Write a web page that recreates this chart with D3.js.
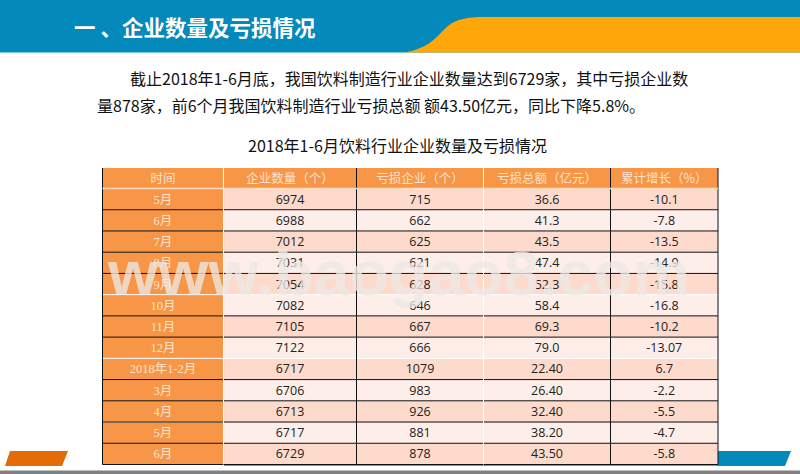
<!DOCTYPE html>
<html>
<head>
<meta charset="utf-8">
<script src="https://cdn.jsdelivr.net/npm/d3@7"></script>
<style>
    html, body { margin: 0; padding: 0; background: #fff; overflow: hidden; }
    svg { display: block; }
    text { font-family: "Noto Sans CJK SC", sans-serif; }
</style>
</head>
<body>
<div id="chart"></div>
<script>
// data
let headers = ["时间", "企业数量（个）", "亏损企业（个）", "亏损总额（亿元）", "累计增长（%）"];
let months = ["5月", "6月", "7月", "8月", "9月", "10月", "11月", "12月", "2018年1-2月", "3月", "4月", "5月", "6月"];
let companies = ["6974", "6988", "7012", "7031", "7054", "7082", "7105", "7122", "6717", "6706", "6713", "6717", "6729"];
let lossMakers = ["715", "662", "625", "621", "628", "646", "667", "666", "1079", "983", "926", "881", "878"];
let lossTotal = ["36.6", "41.3", "43.5", "47.4", "52.3", "58.4", "69.3", "79.0", "22.40", "26.40", "32.40", "38.20", "43.50"];
let growth = ["-10.1", "-7.8", "-13.5", "-14.9", "-15.8", "-16.8", "-10.2", "-13.07", "6.7", "-2.2", "-5.5", "-4.7", "-5.8"];

let pageTitle = "一 、企业数量及亏损情况";
let paragraph = [
    "截止2018年1-6月底，我国饮料制造行业企业数量达到6729家，其中亏损企业数",
    "量878家，前6个月我国饮料制造行业亏损总额 额43.50亿元，同比下降5.8%。"
];
let tableTitle = "2018年1-6月饮料行业企业数量及亏损情况";
let watermark = "www.baogao8.com";

let width = 800;
let height = 474;

let svg = d3.select("#chart").append("svg")
    .attr("width", width)
    .attr("height", height);

// banner
svg.append("rect")
    .attr("width", width)
    .attr("height", 52.5)
    .attr("fill", "#0489bb");

svg.append("path")
    .attr("d", "M404,52.5 C432,48 438,34 448,26 C456,19 468,17 484,17 L800,17 L800,52.5 Z")
    .attr("fill", "#ffa60a");

svg.append("text")
    .attr("x", 74)
    .attr("y", 36)
    .attr("font-size", 21.5)
    .attr("font-weight", 700)
    .attr("fill", "#fff")
    .text(pageTitle);

// intro text
svg.selectAll(".intro")
    .data(paragraph)
    .enter()
    .append("text")
    .attr("class", "intro")
    .attr("x", (d, i) => i === 0 ? 130 : 97)
    .attr("y", (d, i) => i === 0 ? 85 : 112)
    .attr("font-size", 16)
    .attr("fill", "#111")
    .text(d => d);

svg.append("text")
    .attr("x", 397.5)
    .attr("y", 151.5)
    .attr("text-anchor", "middle")
    .attr("font-size", 16)
    .attr("fill", "#111")
    .text(tableTitle);

// bottom decorations, drawn before the table so it covers them
svg.append("polygon")
    .attr("points", "10,451 68,451 62,466 5,466")
    .attr("fill", "#e36c09");
svg.append("polygon")
    .attr("points", "700,451 791,451 785,466 700,466")
    .attr("fill", "#0489bb");
svg.append("rect")
    .attr("y", 470.5)
    .attr("width", width)
    .attr("height", 3.5)
    .attr("fill", "#808080");

// table scales
let columnEdges = [102.5, 223.5, 356.5, 483.5, 610.5, 718];
let colLeft = i => columnEdges[i];
let colWidth = i => columnEdges[i + 1] - columnEdges[i];
let y = d3.scaleBand().domain(d3.range(months.length)).range([188.5, 464.5]);

let columns = [months, companies, lossMakers, lossTotal, growth];

// teal edge showing below the table
svg.append("line")
    .attr("x1", 224)
    .attr("x2", 718)
    .attr("y1", 465.5)
    .attr("y2", 465.5)
    .attr("stroke", "#4fa6c4")
    .attr("stroke-width", 1);

let table = svg.append("g");

// header
let head = table.selectAll(".head")
    .data(headers)
    .enter()
    .append("g")
    .attr("class", "head");

head.append("rect")
    .attr("x", (d, i) => colLeft(i))
    .attr("y", 168)
    .attr("width", (d, i) => colWidth(i))
    .attr("height", 20.5)
    .attr("fill", "#f79646");

head.append("text")
    .attr("x", (d, i) => colLeft(i) + colWidth(i) / 2)
    .attr("y", 183)
    .attr("text-anchor", "middle")
    .attr("font-size", 12.5)
    .attr("fill", "#fde3cf")
    .text(d => d);

// body cells
columns.forEach(function (values, c) {
    let col = table.append("g");

    col.selectAll("rect")
        .data(values)
        .enter()
        .append("rect")
        .attr("x", colLeft(c))
        .attr("y", (d, i) => y(i))
        .attr("width", colWidth(c))
        .attr("height", y.bandwidth())
        .attr("fill", (d, i) => c === 0 ? "#f79646" : (i % 2 === 0 ? "#fddacb" : "#fdeee9"));

    col.selectAll("text")
        .data(values)
        .enter()
        .append("text")
        .attr("x", colLeft(c) + colWidth(c) / 2)
        .attr("y", (d, i) => y(i) + y.bandwidth() / 2 + 4.5)
        .attr("text-anchor", "middle")
        .attr("font-size", 12.5)
        .attr("fill", c === 0 ? "#fde3cf" : "#222")
        .style("font-family", c === 0 ? "'Liberation Serif', 'Noto Sans CJK SC'" : "'Open Sans', 'Noto Sans CJK SC'")
        .text(d => d);
});

// rules between rows, two of them are white and one is heavier
table.selectAll(".rowRule")
    .data(months)
    .enter()
    .append("line")
    .attr("class", "rowRule")
    .attr("x1", 102.5)
    .attr("x2", 718)
    .attr("y1", (d, i) => y(i) + y.bandwidth())
    .attr("y2", (d, i) => y(i) + y.bandwidth())
    .attr("stroke", (d, i) => (i === 4 || i === 7) ? "#fff" : (i === 10 ? "#555" : "#111"))
    .attr("stroke-width", (d, i) => i === 10 ? 1.5 : 1);

// column rules: white on two of the columns, dark on the others
table.selectAll(".colRule")
    .data(columnEdges)
    .enter()
    .append("line")
    .attr("class", "colRule")
    .attr("x1", d => d)
    .attr("x2", d => d)
    .attr("y1", 168)
    .attr("y2", 464.5)
    .attr("stroke", (d, i) => (i === 1 || i === 3) ? "#fff" : "#111")
    .attr("stroke-width", 1);

// line under the header
table.append("line")
    .attr("x1", 102.5)
    .attr("x2", 718)
    .attr("y1", 188.5)
    .attr("y2", 188.5)
    .attr("stroke", "#fdd9bd")
    .attr("stroke-width", 1.5);

// watermark on top of everything
svg.append("text")
    .attr("x", 108)
    .attr("y", 295)
    .attr("textLength", 582)
    .attr("lengthAdjust", "spacingAndGlyphs")
    .attr("font-size", 63)
    .attr("font-weight", 700)
    .attr("fill", "#ece8e4")
    .attr("fill-opacity", 0.78)
    .style("font-family", "'Liberation Sans', sans-serif")
    .text(watermark);
</script>
</body>
</html>
